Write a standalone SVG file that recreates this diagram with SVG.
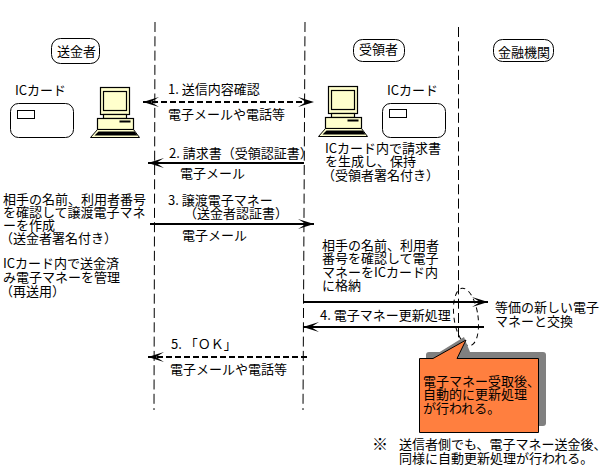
<svg xmlns="http://www.w3.org/2000/svg" width="611" height="469" viewBox="0 0 611 469">
<style>
text{font-family:"Noto Sans CJK JP","Noto Sans",sans-serif;font-size:13px;fill:#000}
.life{stroke:#000;stroke-width:1;stroke-dasharray:10 4.300;fill:none}
.solid{stroke:#000;stroke-width:2;fill:none}
.dash{stroke:#000;stroke-width:2;stroke-dasharray:6 3;fill:none}
.box{fill:#fff;stroke:#000;stroke-width:1}
.tint{fill:#ffffcc;stroke:#000;stroke-width:1.200}
</style>
<defs>
<marker id="hd" markerUnits="userSpaceOnUse" markerWidth="20" markerHeight="14" refX="16" refY="7" orient="auto-start-reverse"><path d="M0 2L16 7L0 12L8 7Z" fill="#000"/></marker>
<g id="pc">
<rect class="tint" x="0" y="0" width="29" height="27"/>
<rect class="tint" x="3" y="4" width="23" height="19"/>
<rect class="tint" x="3" y="27" width="23" height="4"/>
<rect class="tint" x="-3" y="31" width="36" height="11"/>
<rect fill="#000" x="19" y="33" width="11" height="2"/>
<path d="M-3 42H33L39 50H-10Z" fill="#ffffcc" stroke="#000"/>
<path d="M-2 44H34L37 48H-6Z" fill="#000"/>
</g>
</defs>
<g id="connectors">
<path class="life" d="M155 22L154 410"/>
<path class="life" d="M305 22L303 410"/>
<path class="life" d="M458.500 27V410"/>
<path class="dash" d="M143 102H314" marker-start="url(#hd)" marker-end="url(#hd)"/>
<path class="solid" d="M148 163H304" marker-start="url(#hd)"/>
<path class="solid" d="M150 224H314" marker-end="url(#hd)"/>
<path class="solid" d="M303 302H488" marker-end="url(#hd)"/>
<path class="solid" d="M303 327H484" marker-start="url(#hd)"/>
<path class="dash" d="M148 357H310" marker-start="url(#hd)"/>
<ellipse cx="466" cy="317" rx="12" ry="29" transform="rotate(-8 466 317)" fill="none" stroke="#000" stroke-dasharray="5 4"/>
</g>
<g id="sender"><rect class="box" x="51.500" y="38.500" width="48" height="25" rx="9"/><text x="57" y="56">送金者</text></g>
<g id="receiver"><rect class="box" x="353.500" y="39.500" width="51" height="22" rx="9"/><text x="359" y="54">受領者</text></g>
<g id="bank"><rect class="box" x="493.500" y="39.500" width="60" height="22" rx="9"/><text x="498" y="57">金融機関</text></g>
<g id="card-left"><text x="15" y="95">ICカード</text><rect class="box" x="10.500" y="103.500" width="63" height="34" rx="8"/><rect class="box" x="17.500" y="110.500" width="17" height="8"/></g>
<g id="card-right"><text x="387" y="95">ICカード</text><rect class="box" x="382.500" y="103.500" width="63" height="34" rx="8"/><rect class="box" x="389.500" y="109.500" width="17" height="8"/></g>
<g id="pc-left"><use href="#pc" x="100.500" y="87.500"/></g>
<g id="pc-right"><use href="#pc" x="328.500" y="86.500"/></g>
<g id="callout">
<rect x="426" y="352" width="120" height="74" rx="3" fill="#808080"/>
<path d="M430 358L464 337L470 352H440Z" fill="#808080"/>
<path d="M419.500 358.500H433L466 340L457 358.500H538.500V432.500H419.500Z" fill="#ff7f3f" stroke="#000"/>
<text><tspan x="423" y="386">電子マネー受取後、</tspan><tspan x="423" y="399">自動的に更新処理</tspan><tspan x="423" y="413">が行われる。</tspan></text>
</g>
<g id="labels">
<text x="168" y="94">1. 送信内容確認</text>
<text x="168" y="119">電子メールや電話等</text>
<text x="169" y="158">2. 請求書（受領認証書）</text>
<text x="180" y="178">電子メール</text>
<text><tspan x="168" y="205">3. 譲渡電子マネー</tspan><tspan x="184" y="218">（送金者認証書）</tspan></text>
<text x="182" y="240">電子メール</text>
<text><tspan x="3" y="204">相手の名前、利用者番号</tspan><tspan x="3" y="217">を確認して譲渡電子マネ</tspan><tspan x="3" y="230">ーを作成</tspan><tspan x="0" y="243">（送金者署名付き）</tspan></text>
<text><tspan x="3" y="268">ICカード内で送金済</tspan><tspan x="3" y="282">み電子マネーを管理</tspan><tspan x="0" y="296">（再送用）</tspan></text>
<text><tspan x="325" y="153">ICカード内で請求書</tspan><tspan x="325" y="166">を生成し、保持</tspan><tspan x="322" y="180">（受領者署名付き）</tspan></text>
<text><tspan x="322" y="250">相手の名前、利用者</tspan><tspan x="322" y="263">番号を確認して電子</tspan><tspan x="322" y="277">マネーをICカード内</tspan><tspan x="322" y="290">に格納</tspan></text>
<text x="320" y="320">4. 電子マネー更新処理</text>
<text><tspan x="495" y="312">等価の新しい電子</tspan><tspan x="495" y="326">マネーと交換</tspan></text>
<text x="171" y="349">5. 「ＯＫ」</text>
<text x="170" y="374">電子メールや電話等</text>
<text x="372" y="450" style="font-size:16px">※</text>
<text><tspan x="399" y="449">送信者側でも、電子マネー送金後、</tspan><tspan x="399" y="463">同様に自動更新処理が行われる。</tspan></text>
</g>
</svg>
